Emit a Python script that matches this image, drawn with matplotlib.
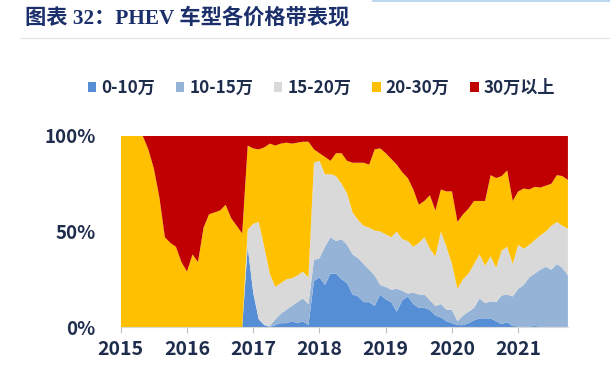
import numpy as np
import matplotlib
matplotlib.use("Agg")
import matplotlib.pyplot as plt
from matplotlib.patches import Patch, Rectangle

plt.rcParams['font.family'] = ['Noto Sans CJK SC', 'DejaVu Sans']

# 月度数据 2015-01 ~ 2021-10，各价格带累计占比上沿(%)，读图估计
top_0_10 = [0, 0, 0, 0, 0, 0, 0, 0, 0, 0, 0, 0, 0, 0, 0, 0, 0, 0, 0, 0, 0, 0, 0,
            42, 18, 4, 1, 0, 1, 2, 2, 3, 2, 3, 1,
            24, 26, 22, 28, 28, 25, 23, 17, 16, 13, 13, 11, 17, 14.5, 13, 8, 14, 16, 12,
            10, 10, 9, 6, 5, 3, 2, 1, 1, 2, 3.5, 4.5, 4.5, 4.5, 3, 1.5, 2.5, 0.5,
            0.3, 0.3, 0.3, 0.5, 0.3, 0.3, 0.3, 0.3, 0.3, 0.3]
top_10_15 = [0, 0, 0, 0, 0, 0, 0, 0, 0, 0, 0, 0, 0, 0, 0, 0, 0, 0, 0, 0, 0, 0, 0,
             42, 18, 4, 1, 0.5, 4, 7, 9, 11, 13, 15, 12,
             35, 36, 42, 47, 45, 46, 43, 38, 36, 33, 30, 27, 22, 21, 19.5, 20, 19, 17.5, 18,
             17, 17, 14, 11, 12, 9, 9, 3, 6, 8, 10, 15, 12.5, 13.5, 13, 16.5, 17, 16,
             20, 22, 26, 28, 30, 31.5, 30, 33, 31, 27]
top_15_20 = [0, 0, 0, 0, 0, 0, 0, 0, 0, 0, 0, 0, 0, 0, 0, 0, 0, 0, 0, 0, 0, 0, 0,
             51, 54, 55, 42, 28, 21, 23, 25, 25.5, 27, 29, 26,
             86, 87, 80, 80, 79, 75, 70, 60, 56, 53, 52, 50.5, 50, 48.5, 47, 50, 46, 45, 42,
             44, 47, 41, 37, 50, 42, 33, 20, 25, 28, 33, 38, 32, 37, 31, 40, 42, 33,
             43, 41, 43, 45.5, 48, 50, 53, 55, 53, 51.5]
top_20_30 = [100, 100, 100, 100, 100, 93, 83, 68, 47, 44, 42, 34, 29, 38, 34, 52, 59, 60, 61, 64, 57, 53, 49,
             95, 93.5, 93, 94, 96, 95, 96, 96.5, 96, 96.5, 97, 97,
             93, 91, 89, 87, 91, 91, 87, 86, 86, 86, 85, 93, 93.5, 91, 88, 85, 81, 78, 72,
             64, 66, 69, 61, 72, 71, 71, 55, 59, 62, 66, 66, 66, 79.5, 78, 79, 82, 66,
             71, 72.5, 72, 73.4, 73, 74, 75, 79.5, 79, 77]

labels = ['0-10万', '10-15万', '15-20万', '20-30万', '30万以上']
colors = ['#558ED5', '#95B3D7', '#D9D9D9', '#FFC000', '#C00000']
years = ['2015', '2016', '2017', '2018', '2019', '2020', '2021']

c1 = np.array(top_0_10)
c2 = np.array(top_10_15)
c3 = np.array(top_15_20)
c4 = np.array(top_20_30)
shares = [c1, c2 - c1, c3 - c2, c4 - c3, 100 - c4]
months = np.arange(len(c1))

navy = '#1F2D4D'

fig = plt.figure(figsize=(6.1, 3.79), dpi=100)
ax = fig.add_axes([0.1979, 0.1372, 0.7331, 0.504])
ax.stackplot(months, shares, colors=colors, linewidth=0)

ax.set_xlim(0, len(c1) - 1)
ax.set_ylim(0, 100)
ax.set_yticks([0, 50, 100])
ax.set_yticklabels(['0%', '50%', '100%'], fontsize=13.5, fontweight='bold', color=navy)
ax.set_xticks(np.arange(len(years)) * 12)
ax.set_xticklabels(years, fontsize=14, fontweight='bold', color=navy)
ax.tick_params(axis='y', length=0, pad=18)
ax.tick_params(axis='x', length=4, color='#BFBFBF', pad=5)
for s in ['top', 'right', 'left']:
    ax.spines[s].set_visible(False)
ax.spines['bottom'].set_color('#D9D9D9')

handles = [Patch(facecolor=c, edgecolor='none') for c in colors]
fig.legend(handles, labels, loc='center', bbox_to_anchor=(0.527, 0.768), ncol=5,
           frameon=False, handlelength=0.5, handleheight=0.5, handletextpad=0.3,
           columnspacing=1.2, prop={'weight': 'bold', 'size': 12.3})
for t in fig.legends[0].get_texts():
    t.set_color(navy)

fig.text(0.041, 0.952, '图表 32：PHEV 车型各价格带表现', fontsize=15.3, fontweight='bold',
         color='#1B2F6B', family=['Liberation Serif', 'Noto Sans CJK SC'], va='center')
fig.add_artist(plt.Line2D([0.033, 1.0], [0.9, 0.9], color='#E3E3E3', lw=0.8))
fig.add_artist(Rectangle((0.61, 0.994), 0.39, 0.006, transform=fig.transFigure,
                         facecolor='#BDD7EE', edgecolor='none'))

fig.savefig('out.png', dpi=100)
